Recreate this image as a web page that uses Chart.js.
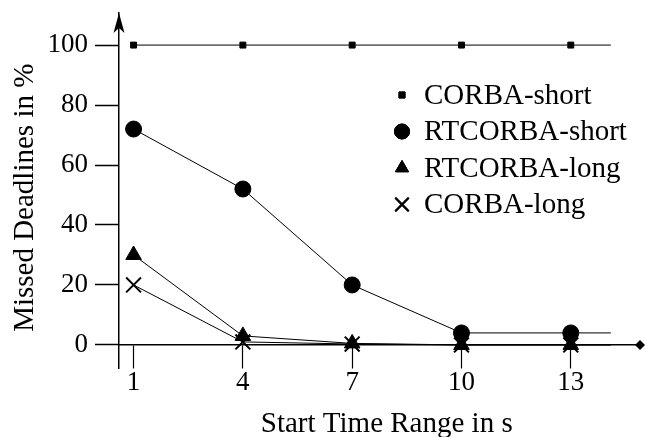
<!DOCTYPE html>
<html>
<head>
<meta charset="utf-8">
<script src="https://cdn.jsdelivr.net/npm/chart.js@4"></script>
<style>
  html, body { margin: 0; padding: 0; background: #fff; overflow: hidden; }
  #wrap { width: 645px; height: 437px; }
</style>
</head>
<body>
<div id="wrap"><canvas id="chart"></canvas></div>
<script>
// Start time range (s) and missed deadlines (%)
const startTimes = [1, 4, 7, 10, 13];
const lineEnd = 14.1; // lines run on past the last point
const corbaShort = [100, 100, 100, 100, 100];
const rtcorbaShort = [72, 52, 20, 4, 4];
const rtcorbaLong = [30, 3, 0.5, 0, 0];
const corbaLong = [20, 1, 0.3, 0, 0];
const yTicks = [0, 20, 40, 60, 80, 100];

const serif = "'Liberation Serif', 'Times New Roman', serif";

function toPoints(vals) {
  const pts = startTimes.map((x, i) => ({ x: x, y: vals[i] }));
  pts.push({ x: lineEnd, y: vals[vals.length - 1] });
  return pts;
}

function makeSet(label, vals, style, radius, bw) {
  return {
    label: label,
    data: toPoints(vals),
    borderColor: '#000',
    borderWidth: 1,
    backgroundColor: '#000',
    pointStyle: style,
    pointBorderWidth: bw,
    pointRadius: ctx => ctx.dataIndex === startTimes.length ? 0 : radius,
    pointBackgroundColor: '#000',
    pointBorderColor: '#000',
    tension: 0,
    clip: false
  };
}

// axis arrow + diamond, and legend drawn inside the plot
const extras = {
  id: 'extras',
  afterDraw(chart) {
    const c = chart.ctx;
    const xs = chart.scales.x, ys = chart.scales.y;
    const ax = xs.left, top = ys.top;
    c.save();
    c.fillStyle = '#000';
    // arrow on top of y axis
    c.beginPath();
    c.moveTo(ax, top);
    c.lineTo(ax + 5.5, top + 20);
    c.lineTo(ax, top + 15);
    c.lineTo(ax - 5.5, top + 20);
    c.closePath();
    c.fill();
    // diamond at end of x axis
    const y0 = ys.getPixelForValue(0);
    const xr = xs.right;
    c.beginPath();
    c.moveTo(xr - 5, y0);
    c.lineTo(xr, y0 - 5);
    c.lineTo(xr + 5, y0);
    c.lineTo(xr, y0 + 5);
    c.closePath();
    c.fill();
    // legend
    c.font = '29px ' + serif;
    c.textBaseline = 'middle';
    c.textAlign = 'left';
    chart.data.datasets.forEach((ds, i) => {
      const y = 95 + i * 36.5;
      const r = ds.pointStyle === 'rect' ? 4.2 : (ds.pointStyle === 'crossRot' ? 9.5 : 7.5);
      c.lineWidth = ds.pointBorderWidth;
      Chart.helpers.drawPoint(c, { pointStyle: ds.pointStyle, radius: r, borderWidth: ds.pointBorderWidth }, 402, y);
      c.fill();
      c.stroke();
      c.fillText(ds.label, 424, y + 1);
    });
    c.restore();
  }
};

new Chart(document.getElementById('chart'), {
  type: 'line',
  data: {
    datasets: [
      makeSet('CORBA-short', corbaShort, 'rect', 4.2, 1),
      makeSet('RTCORBA-short', rtcorbaShort, 'circle', 8, 1),
      makeSet('RTCORBA-long', rtcorbaLong, 'triangle', 9, 1),
      makeSet('CORBA-long', corbaLong, 'crossRot', 10.5, 2)
    ]
  },
  options: {
    responsive: true,
    maintainAspectRatio: false,
    animation: false,
    layout: { autoPadding: false, padding: { left: 0, top: 13, right: 5, bottom: 69 } },
    plugins: { legend: { display: false }, tooltip: { enabled: false } },
    scales: {
      x: {
        type: 'linear',
        position: { y: 0 },
        min: 0.6,
        max: 14.9,
        afterBuildTicks: s => { s.ticks = startTimes.map(v => ({ value: v })); },
        afterFit: s => { s.paddingLeft = 0; s.paddingRight = 0; },
        grid: { drawOnChartArea: false, tickLength: 23, color: '#000', tickWidth: 1.2 },
        border: { color: '#000', width: 1.5 },
        ticks: { color: '#000', font: { family: serif, size: 27 }, padding: -1, maxRotation: 0 },
        title: { display: true, text: '\u00a0\u00a0Start Time Range in s', color: '#000', font: { family: serif, size: 29 }, padding: { top: 9, bottom: 0 } }
      },
      y: {
        type: 'linear',
        min: -7.7,
        max: 110.7,
        afterBuildTicks: s => { s.ticks = yTicks.map(v => ({ value: v })); },
        afterFit: s => { s.width = 119; s.paddingTop = 0; s.paddingBottom = 0; },
        grid: { drawOnChartArea: false, tickLength: 24, color: '#000', tickWidth: 1.5 },
        border: { color: '#000', width: 1.5 },
        ticks: { color: '#000', font: { family: serif, size: 27 }, padding: 7 },
        title: { display: true, text: 'Missed Deadlines in %\u00a0\u00a0', color: '#000', font: { family: serif, size: 29 }, padding: { top: 8, bottom: 0 } }
      }
    }
  },
  plugins: [extras]
});
</script>
</body>
</html>
